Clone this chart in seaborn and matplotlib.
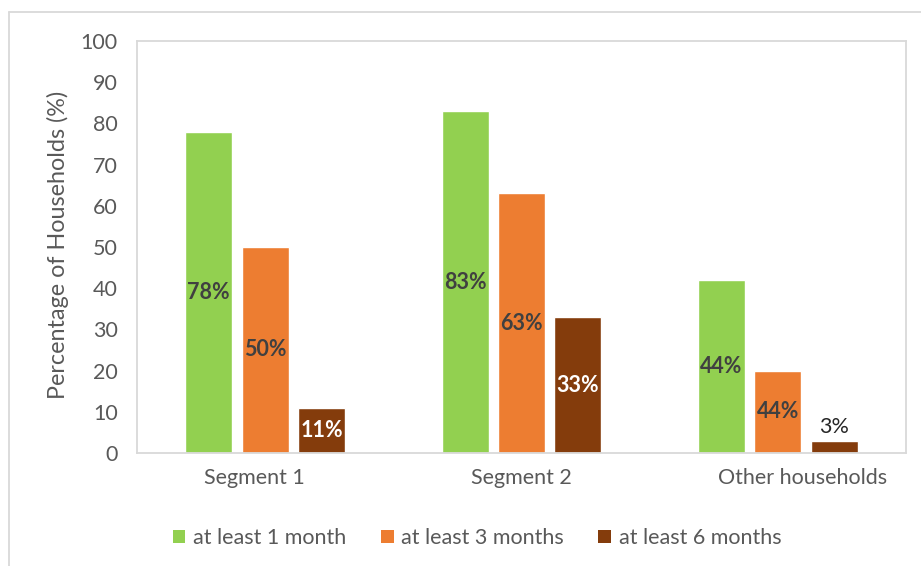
import matplotlib
matplotlib.use("Agg")
import matplotlib.pyplot as plt
import matplotlib.transforms as mtransforms
from matplotlib.patches import Patch
from matplotlib.lines import Line2D
import seaborn as sns
import pandas as pd

# Household groups and duration categories
groups = ["Segment 1", "Segment 2", "Other households"]
durations = ["at least 1 month", "at least 3 months", "at least 6 months"]

# Bar heights (percentage of households)
one_month = [78, 83, 42]
three_months = [50, 63, 20]
six_months = [11, 33, 3]

# Printed data labels for each series
label_one = ["78%", "83%", "44%"]
label_three = ["50%", "63%", "44%"]
label_six = ["11%", "33%", "3%"]

colors = ["#92D050", "#ED7D31", "#843C0C"]
yticks = [0, 10, 20, 30, 40, 50, 60, 70, 80, 90, 100]

rows = []
for dur, vals in zip(durations, [one_month, three_months, six_months]):
    for g, v in zip(groups, vals):
        rows.append({"group": g, "duration": dur, "pct": v})
df = pd.DataFrame(rows)

sns.set_theme(style="white")
plt.rcParams["font.family"] = ["Lato", "DejaVu Sans"]
text_grey = "#595959"
fs = 15.5

W, H = 921, 566
fig = plt.figure(figsize=(W / 100, H / 100), dpi=100)
ax = fig.add_axes([137 / W, 1 - 453 / H, (906 - 137) / W, (453 - 41) / H])

sns.barplot(data=df, x="group", y="pct", hue="duration", order=groups,
            hue_order=durations, palette=colors, width=0.66, gap=0.17,
            saturation=1, legend=False, ax=ax)

ax.set_ylim(0, 100)
ax.set_yticks(yticks)
ax.set_xlim(-0.5, 2.5)
ax.set_xlabel("")
ax.set_ylabel("")
ax.tick_params(axis="both", length=0, labelsize=fs, labelcolor=text_grey)
ax.tick_params(axis="y", pad=14)
ax.tick_params(axis="x", pad=11)
for sp in ax.spines.values():
    sp.set_visible(True)
    sp.set_color("#D9D9D9")
    sp.set_linewidth(1.3)

# Category labels sit slightly off-centre under their groups
label_shift_px = [-11, 0, 25]
for lbl, dx in zip(ax.get_xticklabels(), label_shift_px):
    lbl.set_transform(lbl.get_transform() +
                      mtransforms.ScaledTranslation(dx / 100, 0, fig.dpi_scale_trans))

# Data labels
all_labels = [label_one, label_three, label_six]
for i, (cont, labs) in enumerate(zip(ax.containers, all_labels)):
    for bar, lab in zip(cont, labs):
        x = bar.get_x() + bar.get_width() / 2
        h = bar.get_height()
        if h < 6:
            ax.text(x, h + 1.0, lab, ha="center", va="bottom", fontsize=fs,
                    color="#262626")
        else:
            c = "white" if i == 2 else "#404040"
            ax.text(x, h / 2, lab, ha="center", va="center", fontsize=fs,
                    fontweight="bold", color=c)

fig.text(58 / W, 1 - 245 / H, "Percentage of Households (%)", rotation=90,
         ha="center", va="center", fontsize=16.8, color=text_grey)

handles = [Patch(facecolor=c, edgecolor="none") for c in colors]
fig.legend(handles, durations, loc="center", bbox_to_anchor=(477 / W, 1 - 538 / H),
           ncol=3, frameon=False, fontsize=fs, labelcolor=text_grey,
           handlelength=0.6, handleheight=0.6, handletextpad=0.35,
           columnspacing=1.6)

# Outer chart frame
fig.add_artist(Line2D([9 / W, 9 / W], [0, 1 - 12 / H], color="#D9D9D9",
                      lw=1.3, transform=fig.transFigure))
fig.add_artist(Line2D([9 / W, 1], [1 - 12 / H, 1 - 12 / H], color="#D9D9D9",
                      lw=1.3, transform=fig.transFigure))

fig.savefig("out.png", dpi=100, facecolor="white")
